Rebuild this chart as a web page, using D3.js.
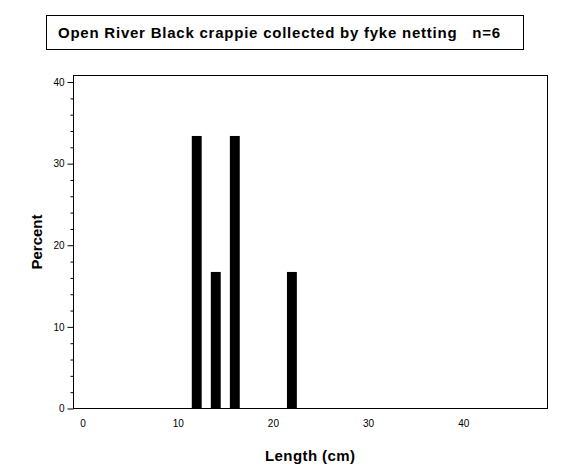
<!DOCTYPE html>
<html>
<head>
<meta charset="utf-8">
<script src="https://cdn.jsdelivr.net/npm/d3@7"></script>
<style>
  body { margin: 0; background: #fff; }
  svg { display: block; }
  text { font-family: "Liberation Sans", Arial, Helvetica, sans-serif; fill: #000; }
</style>
</head>
<body>
<svg id="chart" width="570" height="475"></svg>
<script>
const titleText = "Open River Black crappie collected by fyke netting   n=6";
const lengths = [12, 14, 16, 22];
const percents = [33.33, 16.67, 33.33, 16.67];
const xTickValues = [0, 10, 20, 30, 40];
const yTickValues = [0, 10, 20, 30, 40];
const yMinorValues = [2, 4, 6, 8, 12, 14, 16, 18, 22, 24, 26, 28, 32, 34, 36, 38];

(function () {
const svg = d3.select("#chart");
const pLeft = 73, pRight = 547, pTop = 75, pBottom = 408;

const x = d3.scaleLinear().domain([-1, 48.8]).range([pLeft, pRight]);
const y = d3.scaleLinear().domain([0, 40.8]).range([pBottom, pTop]);

// title box
svg.append("rect")
  .attr("x", 46.5).attr("y", 15.5).attr("width", 477).attr("height", 34)
  .attr("fill", "none").attr("stroke", "#000").attr("stroke-width", 1);
svg.append("text")
  .attr("x", 58).attr("y", 38)
  .attr("text-anchor", "start")
  .attr("textLength", 442)
  .attr("lengthAdjust", "spacing")
  .style("font-size", "15px")
  .style("font-weight", "bold")
  .style("white-space", "pre")
  .attr("xml:space", "preserve")
  .text(titleText);

// bars
svg.append("g").selectAll("rect")
  .data(lengths.map((l, i) => ({ l, p: percents[i] })))
  .join("rect")
  .attr("x", d => x(d.l - 0.52))
  .attr("width", d => x(d.l + 0.52) - x(d.l - 0.52))
  .attr("y", d => y(d.p))
  .attr("height", d => y(0) - y(d.p))
  .attr("fill", "#000");

// frame
svg.append("rect")
  .attr("x", pLeft + 0.5).attr("y", pTop + 0.5)
  .attr("width", pRight - pLeft).attr("height", pBottom - pTop)
  .attr("fill", "none").attr("stroke", "#000").attr("stroke-width", 1);

// y axis
const yAxis = d3.axisLeft(y).tickValues(yTickValues).tickSize(6).tickPadding(3).tickFormat(d3.format("d"));
const gy = svg.append("g").attr("transform", `translate(${pLeft + 0.5},0.5)`).call(yAxis);
gy.select(".domain").remove();
gy.selectAll("text").style("font-size", "10px").style("font-family", "'Liberation Sans', Arial, sans-serif");
const gym = svg.append("g").attr("transform", `translate(${pLeft + 0.5},0.5)`).call(
  d3.axisLeft(y).tickValues(yMinorValues).tickSize(3).tickFormat(""));
gym.select(".domain").remove();

// x axis labels (no tick marks)
const xAxis = d3.axisBottom(x).tickValues(xTickValues).tickSize(0).tickPadding(12).tickFormat(d3.format("d"));
const gx = svg.append("g").attr("transform", `translate(0,${pBottom})`).call(xAxis);
gx.select(".domain").remove();
gx.selectAll("text").style("font-size", "10px").style("font-family", "'Liberation Sans', Arial, sans-serif");

// axis titles
svg.append("text")
  .attr("x", 310).attr("y", 461)
  .attr("text-anchor", "middle")
  .style("font-size", "15px")
  .style("font-weight", "bold")
  .attr("textLength", 90)
  .attr("lengthAdjust", "spacing")
  .text("Length (cm)");
svg.append("text")
  .attr("transform", "translate(42,242) rotate(-90)")
  .attr("text-anchor", "middle")
  .style("font-size", "15px")
  .style("font-weight", "bold")
  .text("Percent");
})();
</script>
</body>
</html>
